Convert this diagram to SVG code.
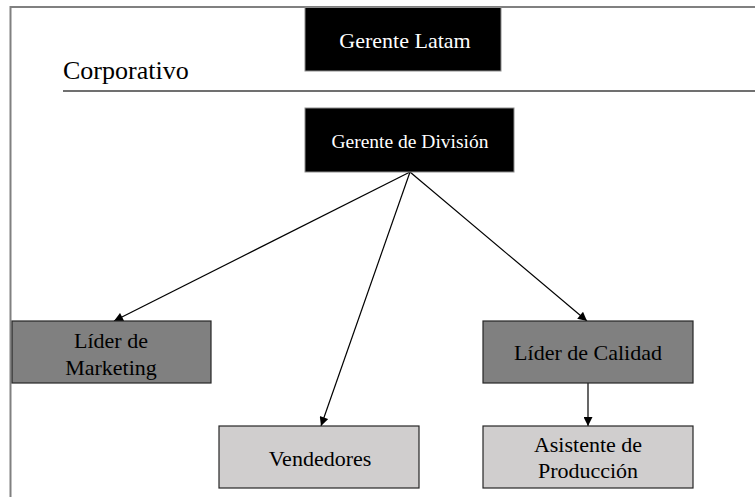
<svg xmlns="http://www.w3.org/2000/svg" width="755" height="497" viewBox="0 0 755 497" font-family="'Liberation Serif', 'Times New Roman', serif">
<style>
text{font-family:'Liberation Serif','Times New Roman',serif;text-anchor:middle}
.blk{fill:#000;stroke:#8c8c8c;stroke-width:1}
.dark{fill:#808080;stroke:#262626;stroke-width:1.2}
.light{fill:#d0cece;stroke:#262626;stroke-width:1.2}
.wt{fill:#fff}
.bt{fill:#000;font-size:22px}
.con{stroke:#000;stroke-width:1.2;fill:none;marker-end:url(#ah)}
</style>
<defs>
<marker id="ah" viewBox="0 0 10 10" refX="10" refY="5" markerWidth="10" markerHeight="9" markerUnits="userSpaceOnUse" orient="auto">
<path d="M0,0 L10,5 L0,10 Z" fill="#000"/>
</marker>
</defs>
<rect width="755" height="497" fill="#fff"/>
<g id="frame">
<path d="M10.5,497 V7 H755" fill="none" stroke="#808080" stroke-width="2"/>
<line x1="63" y1="91" x2="755" y2="91" stroke="#404040" stroke-width="1.5"/>
<text x="63" y="79" font-family="'Liberation Serif', serif" style="text-anchor:start;font-size:26px;fill:#000">Corporativo</text>
</g>
<g id="connectors">
<line class="con" x1="410" y1="172" x2="114" y2="321"/>
<line class="con" x1="410" y1="172" x2="321" y2="426"/>
<line class="con" x1="410" y1="172" x2="587" y2="321"/>
<line class="con" x1="588" y1="383" x2="588" y2="426"/>
</g>
<g id="gerente-latam">
<rect class="blk" x="305" y="7.5" width="196" height="63.5"/>
<text class="wt" x="405" y="48" style="font-size:22px">Gerente Latam</text>
</g>
<g id="gerente-division">
<rect class="blk" x="305" y="108" width="209" height="64"/>
<text class="wt" x="410" y="148" style="font-size:19.5px">Gerente de División</text>
</g>
<g id="lider-marketing">
<rect class="dark" x="12" y="321" width="199" height="62"/>
<text class="bt" x="111" y="348">Líder de</text>
<text class="bt" x="111" y="375">Marketing</text>
</g>
<g id="vendedores">
<rect class="light" x="219" y="426" width="200" height="62"/>
<text class="bt" x="320" y="466">Vendedores</text>
</g>
<g id="lider-calidad">
<rect class="dark" x="483" y="321" width="210" height="62"/>
<text class="bt" x="588" y="360">Líder de Calidad</text>
</g>
<g id="asistente-produccion">
<rect class="light" x="483" y="426" width="210" height="62"/>
<text class="bt" x="588" y="452">Asistente de</text>
<text class="bt" x="588" y="478">Producción</text>
</g>
</svg>
